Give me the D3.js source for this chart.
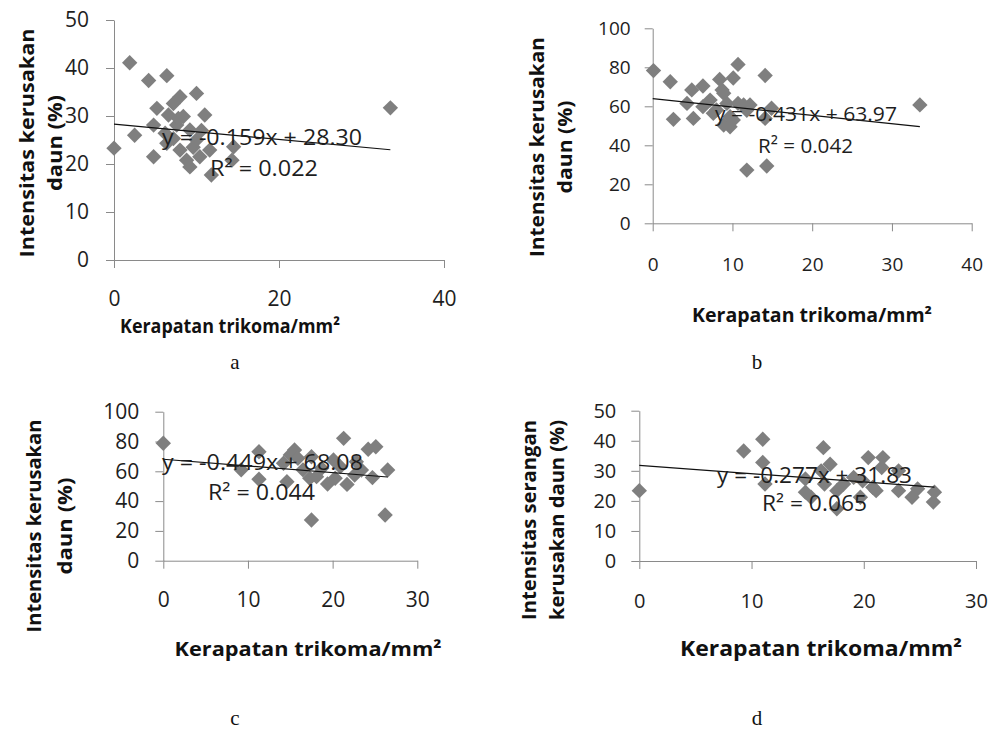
<!DOCTYPE html>
<html>
<head>
<meta charset="utf-8">
<script src="https://cdn.jsdelivr.net/npm/d3@7"></script>
<style>
body { margin: 0; background: #fff; }
svg { display: block; }
</style>
</head>
<body>
<script>
// four scatter plots: kerapatan trikoma vs intensitas kerusakan daun

// panel a
var aX = [0, 1.9, 2.5, 4.2, 4.8, 4.8, 5.2, 6.2, 6.4, 6.4, 6.6, 7.2, 7.2, 7.6, 7.8, 8.0, 8.0, 8.4, 8.8, 9.2, 9.2, 9.6, 10.0, 10.0, 10.4, 10.6, 11.0, 11.6, 11.8, 14.3, 14.5, 33.5]
var aY = [23.3, 41.1, 26.0, 37.4, 21.5, 28.1, 31.6, 26.4, 38.4, 24.3, 30.2, 32.6, 25.3, 28.1, 29.5, 34.0, 22.9, 29.9, 20.8, 27.1, 19.4, 23.5, 34.7, 25.0, 21.5, 27.0, 30.2, 22.9, 17.7, 20.8, 23.6, 31.7]

// panel b
var bX = [0.1, 2.2, 2.6, 4.3, 4.9, 5.1, 6.3, 6.3, 7.2, 7.6, 8.0, 8.4, 8.7, 8.9, 8.9, 9.3, 9.7, 9.7, 10.1, 10.1, 10.7, 10.7, 11.4, 11.8, 11.8, 12.2, 14.1, 14.1, 14.3, 14.9, 33.5]
var bY = [78.3, 72.6, 53.3, 61.5, 68.4, 53.8, 70.4, 59.8, 63.2, 56.4, 58.1, 73.8, 68.4, 66.7, 50.4, 61.5, 54.7, 49.5, 74.5, 53.0, 81.5, 61.5, 60.7, 58.0, 27.3, 60.7, 75.8, 53.8, 29.4, 59.0, 60.7]

// panel c
var cX = [0, 9.2, 11.3, 11.3, 14.2, 14.6, 15.0, 15.5, 15.9, 16.5, 17.3, 17.5, 17.5, 18.1, 18.7, 19.4, 20.1, 20.3, 20.9, 21.3, 21.7, 22.6, 22.8, 23.4, 24.2, 24.7, 25.1, 26.2, 26.5]
var cY = [78.8, 61.0, 73.1, 54.7, 65.4, 53.0, 71.0, 74.3, 68.7, 61.0, 55.3, 69.8, 27.3, 56.4, 62.0, 51.5, 67.6, 55.3, 63.1, 82.1, 51.2, 57.5, 66.4, 60.9, 74.8, 55.8, 76.5, 30.7, 60.9]

// panel d
var dX = [0, 9.3, 11.0, 11.0, 11.2, 14.8, 14.8, 15.3, 16.2, 16.4, 16.5, 17.0, 17.6, 17.6, 18.2, 19.1, 19.7, 19.9, 20.4, 20.8, 21.1, 21.6, 21.7, 23.1, 23.1, 24.3, 24.8, 26.2, 26.3]
var dY = [23.4, 36.6, 40.5, 32.8, 25.6, 27.3, 22.9, 21.2, 30.0, 37.7, 25.6, 32.2, 17.4, 23.4, 25.6, 27.8, 21.2, 26.7, 34.4, 24.5, 23.4, 31.1, 34.4, 30.0, 23.4, 21.2, 24.0, 19.6, 22.9]

// trendline coefficients
var slopes = [-0.159, -0.431, -0.449, -0.277]
var intercepts = [28.30, 63.97, 68.08, 31.83]
var eqLabels = ['y = -0.159x + 28.30', 'y = -0.431x + 63.97', 'y = -0.449x + 68.08', 'y = -0.277x + 31.83']
var r2Labels = ['R\u00b2 = 0.022', 'R\u00b2 = 0.042', 'R\u00b2 = 0.044', 'R\u00b2 = 0.065']

var xTicks = [[0, 20, 40], [0, 10, 20, 30, 40], [0, 10, 20, 30], [0, 10, 20, 30]]
var yTicks = [[0, 10, 20, 30, 40, 50], [0, 20, 40, 60, 80, 100], [0, 20, 40, 60, 80, 100], [0, 10, 20, 30, 40, 50]]
var yTitles = [['Intensitas kerusakan', 'daun (%)'], ['Intensitas kerusakan', 'daun (%)'],
               ['Intensitas kerusakan', 'daun (%)'], ['Intensitas serangan', 'kerusakan daun (%)']]
var xTitle = 'Kerapatan trikoma/mm\u00b2'
var panelLetters = ['a', 'b', 'c', 'd']

var seriesX = [aX, bX, cX, dX]
var seriesY = [aY, bY, cY, dY]

// layout for each panel (pixel boxes, fonts, text widths)
var layout = [
    {xr: [114, 444], xmax: 40, yr: [260, 20], ymax: 50, tickFont: 21, padY: 17, padX: 23,
     eq: [162, 137, 200], r2: [210, 168, 108], eqFont: 21,
     yt: [27, 55, 143, 229, 96], titleFont: 19, xt: [230, 325, 220, 20], letter: [235, 362]},
    {xr: [652.7, 971.7], xmax: 40, yr: [223.3, 28.3], ymax: 100, tickFont: 19, padY: 14, padX: 26,
     eq: [715, 113, 182], r2: [758, 145, 95], eqFont: 20,
     yt: [537, 565, 147, 220, 93], titleFont: 19, xt: [812, 315, 240, 19], letter: [757, 362]},
    {xr: [163.3, 417.3], xmax: 30, yr: [560.7, 411.7], ymax: 100, tickFont: 21, padY: 16, padX: 23,
     eq: [162, 462, 201], r2: [208, 492, 107], eqFont: 21,
     yt: [34, 65, 526, 213, 97], titleFont: 19, xt: [308, 648, 267, 20], letter: [235, 718]},
    {xr: [639.3, 976], xmax: 30, yr: [561, 410.7], ymax: 50, tickFont: 20, padY: 15, padX: 25,
     eq: [717, 475, 195], r2: [762, 503, 105], eqFont: 21,
     yt: [529, 557, 520, 200, 200], titleFont: 19, xt: [821, 648, 282, 21], letter: [757, 718]}
]

var sans = '"Open Sans", Lato, sans-serif'

var svg = d3.select('body').append('svg')
    .attr('width', 995)
    .attr('height', 731)
    .style('font-family', sans)

var diamond = d3.symbol().type(d3.symbolSquare).size(118)

function drawPanel(i) {
    var L = layout[i]
    var g = svg.append('g')

    var x = d3.scaleLinear().domain([0, L.xmax]).range(L.xr)
    var y = d3.scaleLinear().domain([0, L.ymax]).range(L.yr)

    var yAxis = g.append('g')
        .attr('transform', 'translate(' + L.xr[0] + ',0)')
        .call(d3.axisLeft(y).tickValues(yTicks[i]).tickSize(8).tickSizeOuter(0).tickPadding(L.padY))
    var xAxis = g.append('g')
        .attr('transform', 'translate(0,' + L.yr[0] + ')')
        .call(d3.axisBottom(x).tickValues(xTicks[i]).tickSize(8).tickSizeOuter(0).tickPadding(L.padX))

    ;[yAxis, xAxis].forEach(function(ax) {
        ax.select('.domain').attr('stroke', '#8a8a8a')
        ax.selectAll('.tick line').attr('stroke', '#8a8a8a')
        ax.selectAll('.tick text')
            .attr('fill', '#1e1e1e')
            .style('font-family', sans)
            .style('font-size', L.tickFont + 'px')
    })

    var pts = d3.zip(seriesX[i], seriesY[i])
    g.append('g').selectAll('path')
        .data(pts)
        .join('path')
        .attr('d', diamond)
        .attr('transform', d => 'translate(' + x(d[0]) + ',' + y(d[1]) + ') rotate(45)')
        .attr('fill', '#7f7f7f')

    // linear trendline over the data range
    var xEnd = d3.max(seriesX[i])
    var line = d3.line().x(d => x(d)).y(d => y(slopes[i] * d + intercepts[i]))
    g.append('path')
        .attr('d', line([0, xEnd]))
        .attr('fill', 'none')
        .attr('stroke', '#111')
        .attr('stroke-width', 1.2)

    g.append('text')
        .attr('x', L.eq[0]).attr('y', L.eq[1])
        .attr('dominant-baseline', 'central')
        .attr('textLength', L.eq[2]).attr('lengthAdjust', 'spacingAndGlyphs')
        .attr('fill', '#1e1e1e')
        .style('font-size', L.eqFont + 'px')
        .text(eqLabels[i])
    g.append('text')
        .attr('x', L.r2[0]).attr('y', L.r2[1])
        .attr('dominant-baseline', 'central')
        .attr('textLength', L.r2[2]).attr('lengthAdjust', 'spacingAndGlyphs')
        .attr('fill', '#1e1e1e')
        .style('font-size', L.eqFont + 'px')
        .text(r2Labels[i])

    // y title, two rotated lines
    yTitles[i].forEach(function(t, k) {
        g.append('text')
            .attr('transform', 'translate(' + L.yt[k] + ',' + L.yt[2] + ') rotate(-90)')
            .attr('text-anchor', 'middle')
            .attr('dominant-baseline', 'central')
            .attr('textLength', L.yt[3 + k]).attr('lengthAdjust', 'spacingAndGlyphs')
            .attr('fill', '#111')
            .style('font-weight', 'bold')
            .style('font-size', L.titleFont + 'px')
            .text(t)
    })

    g.append('text')
        .attr('x', L.xt[0]).attr('y', L.xt[1])
        .attr('text-anchor', 'middle')
        .attr('dominant-baseline', 'central')
        .attr('textLength', L.xt[2]).attr('lengthAdjust', 'spacingAndGlyphs')
        .attr('fill', '#111')
        .style('font-weight', 'bold')
        .style('font-size', L.xt[3] + 'px')
        .text(xTitle)

    g.append('text')
        .attr('x', L.letter[0]).attr('y', L.letter[1])
        .attr('text-anchor', 'middle')
        .attr('dominant-baseline', 'central')
        .attr('fill', '#111')
        .style('font-family', '"Liberation Serif", serif')
        .style('font-size', '21px')
        .text(panelLetters[i])
}

for (var i = 0; i < 4; i++) drawPanel(i)
</script>
</body>
</html>
